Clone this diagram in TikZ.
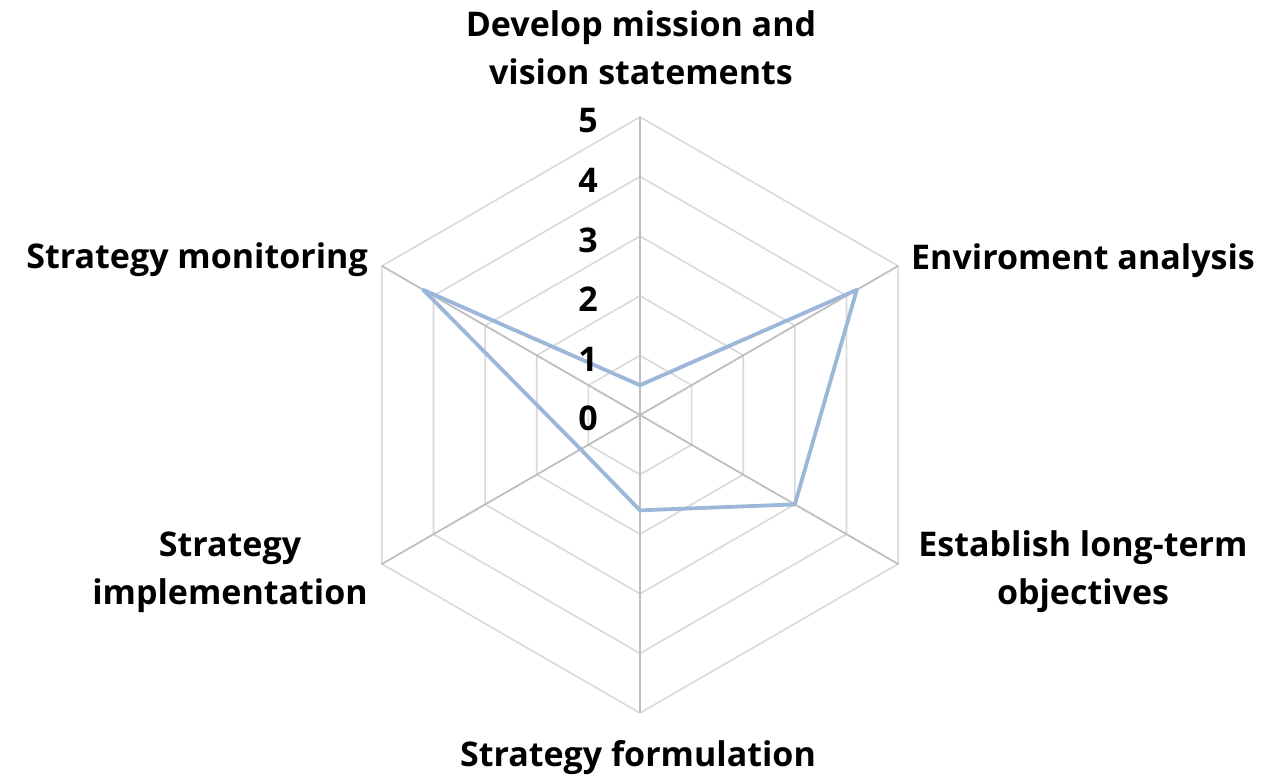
\documentclass[tikz,border=0pt]{standalone}
\usepackage{fontspec}
\setmainfont{Open Sans}
\usetikzlibrary{calc}
\definecolor{gridc}{HTML}{D9D9D9}
\definecolor{spokec}{HTML}{BFBFBF}
\definecolor{datac}{HTML}{9DB7DB}
\begin{document}
\begin{tikzpicture}[x=1pt,y=1pt,
  gridline/.style={draw=gridc,line width=1.6pt},
  spoke/.style={draw=spokec,line width=1.8pt},
  dataline/.style={draw=datac,line width=3.8pt,line join=round},
  lbl/.style={font=\fontsize{34}{48}\selectfont\bfseries,inner sep=0pt,align=center},
  tick/.style={font=\fontsize{34}{38}\selectfont\bfseries,inner sep=0pt,anchor=base east}]
\useasboundingbox (0,0) rectangle (1264,775);
\coordinate (C) at (640,360);
% grid hexagons
\foreach \k in {1,...,5}{
  \draw[gridline] ($(C)+(90:\k*59.6)$) -- ($(C)+(30:\k*59.6)$) -- ($(C)+(-30:\k*59.6)$) -- ($(C)+(-90:\k*59.6)$) -- ($(C)+(-150:\k*59.6)$) -- ($(C)+(150:\k*59.6)$) -- cycle;
}
% spokes
\foreach \a/\n in {90/A,30/B,-30/Cc,-90/D,-150/E,150/F}{
  \coordinate (\n) at ($(C)+(\a:298)$);
  \draw[spoke] (C) -- (\n);
}
% data
\coordinate (pA) at ($(C)+(90:0.5*59.6)$);
\coordinate (pB) at ($(C)+(30:4.2*59.6)$);
\coordinate (pC) at ($(C)+(-30:3.0*59.6)$);
\coordinate (pD) at ($(C)+(-90:1.6*59.6)$);
\coordinate (pE) at ($(C)+(-150:1.15*59.6)$);
\coordinate (pF) at ($(C)+(150:4.2*59.6)$);
\draw[dataline] (pA) -- (pB) -- (pC) -- (pD) -- (pE) -- (pF) -- cycle;
% tick labels
\foreach \k in {0,...,5}{
  \node[tick] (t\k) at (598,{360+\k*59.6-16}) {\k};
}
% category labels
\node[lbl,anchor=base] (lA) at (641,690) {Develop mission and\\vision statements};
\node[lbl,anchor=base west] (lB) at (911,505) {Enviroment analysis};
\node[lbl,anchor=base] (lC) at (1083,170) {Establish long-term\\objectives};
\node[lbl,anchor=base] (lD) at (638,8) {Strategy formulation};
\node[lbl,anchor=base] (lE) at (230,170) {Strategy\\implementation};
\node[lbl,anchor=base east] (lF) at (368,506) {Strategy monitoring};
\end{tikzpicture}
\end{document}
